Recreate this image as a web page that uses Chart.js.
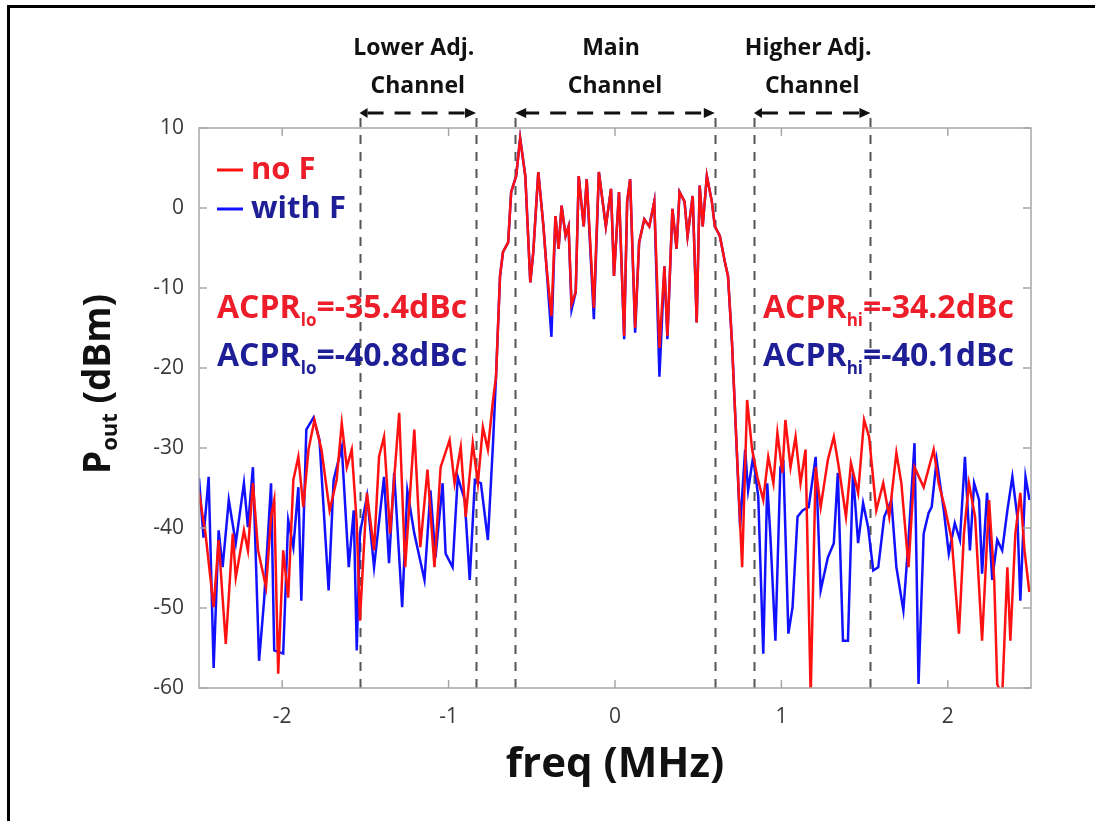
<!DOCTYPE html>
<html>
<head>
<meta charset="utf-8">
<title>ACPR spectrum</title>
<script src="https://cdn.jsdelivr.net/npm/chart.js@4.4.1/dist/chart.umd.min.js"></script>
<style>
  html, body { margin: 0; padding: 0; background: #fff; }
  #wrap { width: 1095px; height: 821px; position: relative; }
</style>
</head>
<body>
<div id="wrap"><canvas id="spec" width="1095" height="821"></canvas></div>
<script>
// Output spectrum (freq in MHz, power in dBm)

// lower adjacent channel
const lowRedFreq = [-2.50,-2.461,-2.412,-2.382,-2.339,-2.297,-2.279,-2.230,-2.206,-2.176,-2.145,-2.097,-2.067,-2.048,-2.024,-1.994,-1.964,-1.933,-1.903,-1.873,-1.842,-1.806,-1.764,-1.715,-1.673,-1.642,-1.612,-1.582,-1.552,-1.533,-1.491,-1.448,-1.418,-1.388,-1.352,-1.297,-1.261,-1.206,-1.170,-1.127,-1.085,-1.048,-0.994,-0.964,-0.927,-0.897,-0.855,-0.824,-0.794,-0.764,-0.733];
const lowRedP = [-35.6,-40.7,-49.9,-41.5,-54.5,-40.7,-46.2,-40.3,-42.8,-34.4,-42.8,-47.4,-38.6,-36.5,-58.2,-42.8,-48.7,-34.0,-31.1,-37.4,-30.2,-26.5,-30.2,-37.8,-34.0,-26.9,-32.4,-30.2,-39.4,-51.6,-35.6,-42.8,-31.1,-28.6,-40.7,-25.6,-44.9,-27.7,-42.4,-32.7,-44.9,-32.4,-29.0,-34.4,-29.9,-38.6,-29.4,-34.4,-27.4,-30.2,-24.0];

const lowBlueFreq = [-2.50,-2.473,-2.442,-2.412,-2.382,-2.358,-2.321,-2.279,-2.230,-2.206,-2.176,-2.139,-2.109,-2.067,-2.048,-1.994,-1.964,-1.933,-1.903,-1.885,-1.855,-1.812,-1.776,-1.721,-1.691,-1.642,-1.600,-1.570,-1.552,-1.533,-1.49,-1.448,-1.388,-1.358,-1.327,-1.279,-1.248,-1.206,-1.145,-1.109,-1.079,-1.036,-1.018,-0.976,-0.945,-0.903,-0.873,-0.842,-0.806,-0.764,-0.733];
const lowBlueP = [-33.8,-41.2,-33.6,-57.5,-40.3,-44.9,-36.5,-41.9,-34.4,-39.9,-32.4,-56.6,-49.1,-34.4,-55.3,-55.7,-39.0,-42.4,-34.9,-49.1,-27.7,-26.2,-29.0,-47.8,-34.0,-29.9,-44.9,-37.8,-55.3,-40.7,-36.0,-44.9,-33.6,-44.4,-33.1,-49.9,-35.3,-40.7,-46.5,-35.3,-43.7,-34.4,-43.2,-44.9,-33.6,-36.5,-46.5,-34.0,-34.4,-41.5,-29.4];

// main channel (both traces nearly identical)
const mainFreq = [-0.715,-0.691,-0.673,-0.642,-0.624,-0.594,-0.570,-0.539,-0.509,-0.491,-0.461,-0.430,-0.412,-0.382,-0.358,-0.339,-0.321,-0.297,-0.279,-0.261,-0.236,-0.218,-0.188,-0.170,-0.127,-0.097,-0.055,-0.024,-0.006,0.024,0.055,0.073,0.091,0.121,0.145,0.176,0.206,0.236,0.267,0.297,0.315,0.345,0.370,0.388,0.418,0.436,0.467,0.491,0.509,0.527,0.552,0.582,0.600,0.630,0.661,0.679,0.703,0.721];
const mainRedP = [-21.1,-8.5,-5.5,-4.3,2.0,4.0,8.7,4.0,-9.3,-5.5,4.5,-2.3,-7.3,-13.5,-1.0,-5.1,0.3,-3.5,-2.3,-12.0,-10.5,4.0,-2.3,3.6,-12.5,4.5,-2.3,2.4,-8.5,2.0,-16.0,0.8,3.6,-15.0,-4.3,-1.4,-2.3,0.8,-17.5,-7.3,-16.0,-0.1,-5.1,2.0,0.8,-3.5,1.5,-14.3,2.8,-2.3,4.0,0.8,-2.3,-3.5,-6.8,-8.5,-16.8,-25.2];
const mainBlueP = [-21.1,-8.5,-5.5,-4.3,2.0,4.0,8.7,4.0,-9.3,-5.5,4.5,-2.3,-7.3,-16.1,-1.0,-5.1,0.3,-3.5,-2.3,-12.7,-10.5,4.0,-2.3,3.6,-13.9,4.5,-2.3,2.4,-8.5,2.0,-16.4,0.8,3.6,-15.6,-4.3,-1.4,-2.3,0.8,-21.1,-7.3,-16.4,-0.1,-5.1,2.0,0.8,-3.5,1.5,-14.3,2.8,-2.3,4.0,0.8,-2.3,-3.5,-6.8,-8.5,-16.8,-25.2];

// higher adjacent channel
const highRedFreq = [0.764,0.794,0.824,0.855,0.891,0.921,0.952,0.976,1.006,1.024,1.055,1.085,1.115,1.145,1.176,1.206,1.236,1.279,1.315,1.345,1.388,1.418,1.461,1.497,1.527,1.570,1.612,1.648,1.691,1.721,1.764,1.800,1.855,1.915,1.945,1.982,2.024,2.067,2.097,2.127,2.164,2.206,2.248,2.279,2.297,2.327,2.358,2.376,2.406,2.436,2.461,2.49];
const highRedP = [-44.9,-24.0,-30.2,-33.6,-36.5,-31.1,-34.4,-28.1,-33.1,-26.5,-32.4,-28.6,-34.4,-30.2,-61,-32.4,-37.4,-31.5,-28.6,-32.4,-38.6,-31.9,-35.6,-26.5,-28.6,-37.8,-34.4,-38.6,-30.6,-34.4,-44.9,-32.4,-34.9,-30.2,-34.4,-37.4,-41.5,-53.2,-40.7,-34.4,-38.6,-54.1,-36.5,-46.5,-59.5,-61,-44.9,-54.1,-40.7,-35.6,-42.8,-48.0];

const highBlueFreq = [0.752,0.782,0.800,0.830,0.861,0.891,0.915,0.933,0.964,0.994,1.012,1.042,1.067,1.097,1.127,1.164,1.206,1.236,1.279,1.315,1.339,1.370,1.400,1.430,1.461,1.491,1.521,1.552,1.582,1.618,1.661,1.691,1.733,1.764,1.800,1.824,1.855,1.885,1.903,1.933,1.976,2.006,2.042,2.073,2.103,2.133,2.158,2.188,2.206,2.236,2.267,2.297,2.327,2.358,2.388,2.418,2.436,2.467,2.491];
const highBlueP = [-39.9,-30.2,-35.3,-31.1,-36.1,-55.7,-34.4,-40.7,-54.1,-32.4,-31.9,-53.2,-49.9,-38.6,-37.8,-37.4,-31.1,-47.8,-43.7,-41.9,-33.1,-54.1,-54.1,-33.1,-41.9,-36.9,-39.9,-45.3,-44.9,-38.6,-36.5,-44.9,-50.3,-41.5,-29.4,-59.5,-40.7,-38.1,-37.4,-31.5,-37.8,-43.2,-39.4,-41.5,-31.1,-42.8,-34.4,-36.5,-45.7,-35.6,-46.5,-41.5,-42.8,-37.8,-33.6,-38.6,-49.1,-33.6,-36.5];

// axes
const xTicks = [-2, -1, 0, 1, 2];
const yTicks = [10, 0, -10, -20, -30, -40, -50, -60];
const channelEdges = [-1.535, -0.835, -0.6, 0.6, 0.835, 1.535];

// texts
const channelNames = [['Lower Adj.', 'Channel'], ['Main', 'Channel'], ['Higher Adj.', 'Channel']];
const seriesNames = ['no F', 'with F'];
const acprLo = ['-35.4dBc', '-40.8dBc'];
const acprHi = ['-34.2dBc', '-40.1dBc'];

const RED = '#ff1111';
const BLUE = '#1111ff';
const RED_TXT = '#ee1d2a';
const BLUE_TXT = '#1e1e96';
const FONT = '"Open Sans", "Noto Sans", sans-serif';

function pairs(xs, ys) {
  return xs.map((x, i) => ({ x: x, y: ys[i] }));
}

const redData = [...pairs(lowRedFreq, lowRedP), ...pairs(mainFreq, mainRedP), ...pairs(highRedFreq, highRedP)];
const blueData = [...pairs(lowBlueFreq, lowBlueP), ...pairs(mainFreq, mainBlueP), ...pairs(highBlueFreq, highBlueP)];

function drawArrow(ctx, x1, x2, y, bigHeads) {
  ctx.save();
  ctx.strokeStyle = '#111';
  ctx.fillStyle = '#111';
  ctx.lineWidth = 3;
  ctx.setLineDash([16, 11]);
  ctx.beginPath();
  ctx.moveTo(x1 + 8, y);
  ctx.lineTo(x2 - 8, y);
  ctx.stroke();
  ctx.setLineDash([]);
  const h = bigHeads ? 11 : 8;
  ctx.beginPath();
  ctx.moveTo(x1, y); ctx.lineTo(x1 + h, y - 5); ctx.lineTo(x1 + h, y + 5); ctx.closePath();
  ctx.fill();
  ctx.beginPath();
  ctx.moveTo(x2, y); ctx.lineTo(x2 - 11, y - 5); ctx.lineTo(x2 - 11, y + 5); ctx.closePath();
  ctx.fill();
  ctx.restore();
}

function drawSubText(ctx, x, y, main, sub, rest, color) {
  ctx.fillStyle = color;
  ctx.textAlign = 'left';
  ctx.textBaseline = 'alphabetic';
  ctx.font = '700 32px ' + FONT;
  ctx.fillText(main, x, y);
  let cx = x + ctx.measureText(main).width;
  ctx.font = '700 17px ' + FONT;
  ctx.fillText(sub, cx, y + 8);
  cx += ctx.measureText(sub).width;
  ctx.font = '700 32px ' + FONT;
  ctx.fillText(rest, cx, y);
}

const decorations = {
  id: 'decorations',
  beforeDatasetsDraw(chart) {
    const { ctx, chartArea: a, scales: { x } } = chart;
    ctx.save();
    ctx.strokeStyle = '#555';
    ctx.lineWidth = 2;
    ctx.setLineDash([9, 8]);
    channelEdges.forEach(f => {
      const px = Math.round(x.getPixelForValue(f)) + 0.5;
      ctx.beginPath();
      ctx.moveTo(px, a.top - 10);
      ctx.lineTo(px, a.bottom + 8);
      ctx.stroke();
    });
    ctx.restore();
  },
  afterDraw(chart) {
    const { ctx, chartArea: a, scales: { x, y } } = chart;
    ctx.save();

    // outer frame (left and top edges only)
    ctx.fillStyle = '#000';
    ctx.fillRect(7, 5, 3, 816);
    ctx.fillRect(7, 5, 1088, 3);

    // axes box
    ctx.strokeStyle = '#a6a6a6';
    ctx.lineWidth = 1.5;
    ctx.strokeRect(a.left, a.top, a.right - a.left, a.bottom - a.top);

    // inward ticks
    ctx.beginPath();
    xTicks.forEach(v => {
      const px = x.getPixelForValue(v);
      ctx.moveTo(px, a.bottom); ctx.lineTo(px, a.bottom - 8);
      ctx.moveTo(px, a.top); ctx.lineTo(px, a.top + 8);
    });
    yTicks.forEach(v => {
      const py = y.getPixelForValue(v);
      ctx.moveTo(a.left, py); ctx.lineTo(a.left + 8, py);
      ctx.moveTo(a.right, py); ctx.lineTo(a.right - 8, py);
    });
    ctx.stroke();

    // channel labels and arrows
    const spans = [[channelEdges[0], channelEdges[1]], [channelEdges[2], channelEdges[3]], [channelEdges[4], channelEdges[5]]];
    ctx.fillStyle = '#111';
    ctx.textAlign = 'center';
    ctx.textBaseline = 'middle';
    ctx.font = '700 23px ' + FONT;
    spans.forEach((s, i) => {
      const x1 = x.getPixelForValue(s[0]);
      const x2 = x.getPixelForValue(s[1]);
      const cx = (x1 + x2) / 2;
      ctx.fillText(channelNames[i][0], cx - 4, 48);
      ctx.fillText(channelNames[i][1], cx, 86);
      drawArrow(ctx, x1, x2, 113, i === 1);
    });

    // legend
    const lx = a.left + 18;
    ctx.lineWidth = 3;
    ctx.strokeStyle = RED;
    ctx.beginPath(); ctx.moveTo(lx, a.top + 42); ctx.lineTo(lx + 26, a.top + 42); ctx.stroke();
    ctx.strokeStyle = BLUE;
    ctx.beginPath(); ctx.moveTo(lx, a.top + 81); ctx.lineTo(lx + 26, a.top + 81); ctx.stroke();
    ctx.font = '700 31px ' + FONT;
    ctx.textAlign = 'left';
    ctx.textBaseline = 'middle';
    ctx.fillStyle = RED_TXT;
    ctx.fillText(seriesNames[0], lx + 34, a.top + 42);
    ctx.fillStyle = BLUE_TXT;
    ctx.fillText(seriesNames[1], lx + 34, a.top + 81);

    // ACPR annotations
    drawSubText(ctx, a.left + 18, 318, 'ACPR', 'lo', '=' + acprLo[0], RED_TXT);
    drawSubText(ctx, a.left + 18, 366, 'ACPR', 'lo', '=' + acprLo[1], BLUE_TXT);
    drawSubText(ctx, 763, 318, 'ACPR', 'hi', '=' + acprHi[0], RED_TXT);
    drawSubText(ctx, 763, 366, 'ACPR', 'hi', '=' + acprHi[1], BLUE_TXT);

    // axis titles
    ctx.fillStyle = '#111';
    ctx.textAlign = 'center';
    ctx.textBaseline = 'middle';
    ctx.font = '700 42px ' + FONT;
    ctx.fillText('freq (MHz)', (a.left + a.right) / 2, 765);

    ctx.save();
    ctx.translate(99, 384);
    ctx.rotate(-Math.PI / 2);
    ctx.textAlign = 'left';
    const big = '700 37px ' + FONT;
    const small = '700 22px ' + FONT;
    ctx.font = big; const wP = ctx.measureText('P').width;
    ctx.font = small; const wOut = ctx.measureText('out').width;
    ctx.font = big; const wRest = ctx.measureText(' (dBm)').width;
    let sx = -(wP + wOut + wRest) / 2;
    ctx.font = big; ctx.fillText('P', sx, 0); sx += wP;
    ctx.font = small; ctx.fillText('out', sx, 12); sx += wOut;
    ctx.font = big; ctx.fillText(' (dBm)', sx, 0);
    ctx.restore();

    ctx.restore();
  }
};

new Chart(document.getElementById('spec'), {
  type: 'line',
  data: {
    datasets: [
      { label: seriesNames[0], data: redData, borderColor: RED, borderWidth: 2.5, pointRadius: 0, tension: 0, order: 0 },
      { label: seriesNames[1], data: blueData, borderColor: BLUE, borderWidth: 2.5, pointRadius: 0, tension: 0, order: 1 }
    ]
  },
  options: {
    responsive: false,
    animation: false,
    devicePixelRatio: 1,
    layout: { padding: { left: 0, top: 128, right: 64, bottom: 0 } },
    plugins: { legend: { display: false }, tooltip: { enabled: false } },
    scales: {
      x: {
        type: 'linear',
        min: -2.5,
        max: 2.5,
        afterBuildTicks: s => { s.ticks = xTicks.map(v => ({ value: v })); },
        afterFit: s => { s.height = 133; },
        grid: { display: false, drawTicks: false },
        border: { display: false },
        ticks: { padding: 16, color: '#3a3a3a', font: { family: FONT, size: 21 } }
      },
      y: {
        min: -60,
        max: 10,
        afterBuildTicks: s => { s.ticks = yTicks.map(v => ({ value: v })); },
        afterFit: s => { s.width = 199; },
        grid: { display: false, drawTicks: false },
        border: { display: false },
        ticks: { padding: 15, color: '#3a3a3a', font: { family: FONT, size: 21 } }
      }
    }
  },
  plugins: [decorations]
});
</script>
</body>
</html>
